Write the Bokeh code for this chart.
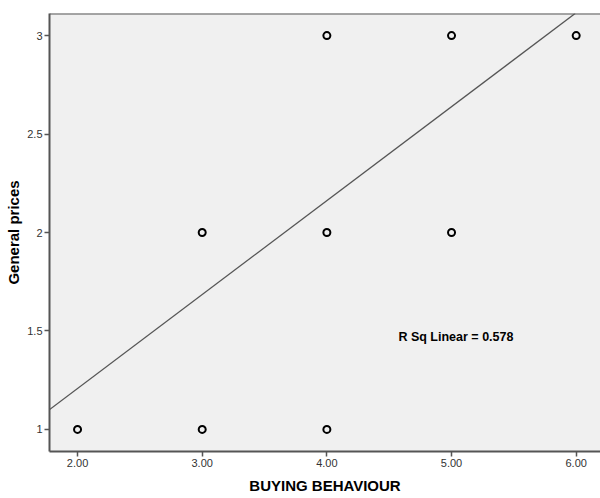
from bokeh.plotting import figure
from bokeh.models import FixedTicker, Slope, Span, Label, Range1d
from bokeh.embed import file_html
from bokeh.resources import INLINE

# Data
buying = [2, 3, 3, 4, 4, 4, 5, 5, 6]
prices = [1, 1, 2, 1, 2, 3, 2, 3, 3]
fit_slope = 0.477
fit_intercept = 0.254
r2_text = "R Sq Linear = 0.578"
x_ticks = [2, 3, 4, 5, 6]
x_tick_labels = ["2.00", "3.00", "4.00", "5.00", "6.00"]
y_ticks = [1, 1.5, 2, 2.5, 3]
y_tick_labels = ["1", "1.5", "2", "2.5", "3"]

p = figure(width=600, height=498, output_backend="svg", toolbar_location=None,
           x_range=Range1d(1.775, 6.195), y_range=Range1d(0.888, 3.112),
           min_border_left=49, min_border_top=13, min_border_bottom=47, min_border_right=0)

p.background_fill_color = "#F0F0F0"
p.border_fill_color = "white"
p.outline_line_color = None
p.grid.visible = False

for ax in (p.xaxis[0], p.yaxis[0]):
    ax.axis_line_color = "#555555"
    ax.axis_line_width = 2
    ax.major_tick_line_color = "#555555"
    ax.major_tick_line_width = 1.5
    ax.major_tick_out = 5
    ax.major_tick_in = 0
    ax.minor_tick_line_color = None
    ax.major_label_text_font = "Liberation Sans"
    ax.major_label_text_font_size = "11px"
    ax.major_label_text_color = "#333333"
    ax.axis_label_text_font = "Liberation Sans"
    ax.axis_label_text_font_size = "15px"
    ax.axis_label_text_font_style = "bold"
    ax.axis_label_text_color = "black"

p.xaxis[0].ticker = FixedTicker(ticks=x_ticks)
p.xaxis[0].major_label_overrides = dict(zip(x_ticks, x_tick_labels))
p.yaxis[0].ticker = FixedTicker(ticks=y_ticks)
p.yaxis[0].major_label_overrides = dict(zip(y_ticks, y_tick_labels))
p.xaxis[0].axis_label = "BUYING BEHAVIOUR"
p.yaxis[0].axis_label = "General prices"
p.xaxis[0].major_label_standoff = 2
p.xaxis[0].axis_label_standoff = 7
p.yaxis[0].major_label_standoff = 2
p.yaxis[0].axis_label_standoff = 2

p.add_layout(Span(location=3.112, dimension="width", line_color="#555555", line_width=2))

p.add_layout(Slope(gradient=fit_slope, y_intercept=fit_intercept,
                   line_color="#555555", line_width=1.3))

p.scatter(buying, prices, marker="circle", size=7, fill_color=None,
          line_color="black", line_width=2)

p.add_layout(Label(x=4.574, y=1.467, text=r2_text, text_font="Liberation Sans",
                   text_font_size="12.5px", text_font_style="bold", text_color="black",
                   text_baseline="middle", text_align="left"))

open("out.html", "w").write(file_html(p, INLINE))
